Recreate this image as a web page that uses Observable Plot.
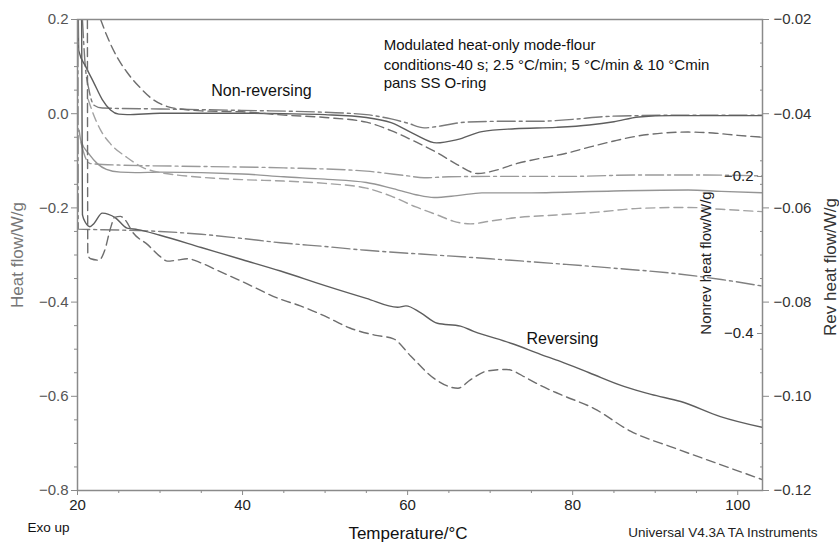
<!DOCTYPE html>
<html>
<head>
<meta charset="utf-8">
<script src="https://cdn.jsdelivr.net/npm/d3@7"></script>
<script src="https://cdn.jsdelivr.net/npm/@observablehq/plot@0.6"></script>
<style>
  html, body { margin: 0; padding: 0; background: white; }
</style>
</head>
<body>
<div id="chart"></div>
<script>
// ---- Data (Temperature °C, value read in left "Heat flow" axis units) ----
// Non-reversing group (top)
const nonrevDashDot = [[20.6,0.2],[20.9,0.11],[21.4,0.05],[22,0.018],[23,0.012],[30,0.01],[40,0.007],[50,0.003],[55,-0.002],[58,-0.011],[60,-0.02],[62,-0.03],[64,-0.026],[67,-0.018],[72,-0.016],[76,-0.016],[80,-0.012],[84,-0.006],[88,-0.004],[95,-0.003],[103,-0.003]];
const nonrevSolid = [[20.1,0.2],[20.15,0.134],[21,0.1],[22,0.065],[23,0.03],[24,0.008],[25,-0.001],[26,-0.002],[30,0.001],[40,0.001],[45,0.0],[50,-0.002],[55,-0.008],[58,-0.019],[61,-0.045],[63.5,-0.062],[66,-0.055],[69,-0.038],[73,-0.032],[78,-0.029],[82,-0.024],[85,-0.017],[88,-0.007],[92,-0.004],[103,-0.004]];
const nonrevDashed = [[22.8,0.2],[23.5,0.168],[24.8,0.12],[26,0.088],[27.6,0.055],[29,0.032],[30.9,0.015],[33,0.009],[35,0.006],[40,0.004],[45,-0.003],[50,-0.008],[55,-0.018],[58,-0.036],[61,-0.06],[63.6,-0.083],[66,-0.108],[68.5,-0.127],[70.5,-0.121],[73,-0.107],[76,-0.095],[79,-0.085],[82,-0.071],[85,-0.058],[88,-0.047],[91,-0.041],[94,-0.039],[97,-0.041],[100,-0.046],[103,-0.05]];
// Total heat flow group (middle)
const totalDashDot = [[20.4,-0.06],[21,-0.095],[21.6,-0.106],[25,-0.109],[35,-0.112],[45,-0.115],[55,-0.122],[60,-0.132],[62,-0.136],[65,-0.134],[70,-0.133],[80,-0.133],[88,-0.13],[95,-0.13],[103,-0.132]];
const totalSolid = [[20.2,-0.035],[20.4,-0.057],[21.5,-0.088],[22.4,-0.106],[23.5,-0.118],[25.2,-0.124],[27,-0.125],[30,-0.124],[40,-0.128],[45,-0.134],[50,-0.139],[55,-0.146],[58,-0.158],[61,-0.172],[63.2,-0.178],[66,-0.174],[69,-0.168],[75,-0.168],[85,-0.164],[94,-0.162],[98,-0.165],[103,-0.168]];
const totalDashed = [[21.3,0.03],[21.9,0.0],[22.8,-0.035],[24,-0.064],[26,-0.093],[28,-0.115],[30,-0.125],[32,-0.13],[35,-0.135],[40,-0.14],[45,-0.143],[50,-0.148],[55,-0.158],[58,-0.175],[61,-0.198],[63.6,-0.215],[65.5,-0.228],[67.6,-0.234],[70,-0.228],[73,-0.221],[78,-0.215],[83,-0.209],[88,-0.201],[94,-0.199],[98,-0.203],[103,-0.208]];
// Reversing group (bottom)
const revDashDot = [[20.05,0.2],[20.1,-0.245],[25,-0.247],[30,-0.25],[35,-0.256],[40,-0.265],[44.6,-0.274],[50,-0.282],[55,-0.29],[61.6,-0.298],[70,-0.308],[78.5,-0.319],[85,-0.328],[92.7,-0.34],[98,-0.352],[103,-0.366]];
const revSolid = [[20.5,0.2],[20.6,-0.215],[21,-0.232],[21.5,-0.24],[22,-0.233],[23,-0.211],[24.6,-0.221],[26,-0.243],[27.3,-0.246],[30,-0.258],[35,-0.284],[40,-0.31],[44.6,-0.334],[50,-0.365],[55,-0.392],[58.8,-0.411],[59.8,-0.408],[61.6,-0.423],[63.6,-0.445],[66.4,-0.451],[68,-0.462],[72.8,-0.489],[76.1,-0.511],[78.5,-0.526],[82,-0.55],[86.2,-0.579],[89.5,-0.596],[93.1,-0.611],[97.9,-0.643],[103,-0.666]];
const revDashed = [[21.2,0.2],[21.25,-0.3],[21.6,-0.308],[22.6,-0.311],[23.3,-0.29],[24,-0.243],[24.5,-0.22],[25.2,-0.218],[25.8,-0.226],[26.7,-0.252],[28.5,-0.278],[30,-0.303],[30.9,-0.313],[32,-0.311],[33.3,-0.308],[35,-0.317],[37,-0.333],[39.8,-0.355],[44.6,-0.394],[47,-0.408],[50,-0.43],[53,-0.455],[56,-0.47],[58.3,-0.478],[60.4,-0.515],[63.2,-0.562],[66.1,-0.583],[67.6,-0.565],[69.7,-0.546],[72,-0.543],[74.5,-0.562],[76.1,-0.577],[78.5,-0.596],[82.6,-0.626],[87,-0.674],[92.2,-0.709],[97.9,-0.745],[103,-0.777]];

// ---- Tick values ----
const xMajorTicks = [20, 40, 60, 80, 100];
const xMinorTicks = [25, 30, 35, 45, 50, 55, 65, 70, 75, 85, 90, 95];
const heatMajorTicks = [0.2, 0.0, -0.2, -0.4, -0.6, -0.8];
const heatMinorTicks = [0.15, 0.1, 0.05, -0.05, -0.1, -0.15, -0.25, -0.3, -0.35, -0.45, -0.5, -0.55, -0.65, -0.7, -0.75];
const revMajorTicks = [-0.02, -0.04, -0.06, -0.08, -0.10, -0.12];
const nonrevMajorTicks = [-0.2, -0.4];

// ---- Text ----
const annotations = [
  {text: "Modulated heat-only mode-flour", x: 57.1, y: 0.145, size: 15},
  {text: "conditions-40 s; 2.5 °C/min; 5 °C/min & 10 °Cmin", x: 57.1, y: 0.104, size: 15},
  {text: "pans SS O-ring", x: 57.1, y: 0.064, size: 15},
  {text: "Non-reversing", x: 36.2, y: 0.049, size: 16},
  {text: "Reversing", x: 74.4, y: -0.479, size: 16}
];

// axis conversions (secondary axes share the pixel range of the left axis)
const revToHeat = r => (r + 0.04) * 10;
const heatToRev = h => h / 10 - 0.04;
const nonrevToHeat = n => n / 0.6 + 0.2;
const heatToNonrev = h => (h - 0.2) * 0.6;

const series = [
  {pts: nonrevDashDot, stroke: "#7a7a7a", dash: "18,4,3,4"},
  {pts: nonrevSolid, stroke: "#5e5e5e", dash: null},
  {pts: nonrevDashed, stroke: "#6e6e6e", dash: "9,5"},
  {pts: totalDashDot, stroke: "#9a9a9a", dash: "18,4,3,4"},
  {pts: totalSolid, stroke: "#959595", dash: null},
  {pts: totalDashed, stroke: "#a2a2a2", dash: "9,5"},
  {pts: revDashDot, stroke: "#808080", dash: "18,4,3,4"},
  {pts: revSolid, stroke: "#5e5e5e", dash: null},
  {pts: revDashed, stroke: "#6e6e6e", dash: "9,5"}
];

const f1 = d3.format(".1f");
const f2 = d3.format(".2f");
const axisGrey = "#8a8a8a";

const lineMarks = series.map(s => Plot.line(s.pts, {
  x: d => d[0], y: d => d[1], stroke: s.stroke, strokeWidth: 1.4,
  strokeDasharray: s.dash, curve: "monotone-x", clip: true
}));

const chart = Plot.plot({
  width: 839,
  height: 542,
  marginTop: 19,
  marginBottom: 52,
  marginLeft: 77,
  marginRight: 77,
  style: {fontFamily: "'Liberation Sans', Arial, Helvetica, sans-serif", background: "white"},
  x: {domain: [20, 103]},
  y: {domain: [-0.8, 0.2]},
  marks: [
    ...lineMarks,
    Plot.frame({stroke: axisGrey, strokeWidth: 1.5}),
    // bottom axis
    Plot.axisX({ticks: xMajorTicks, tickSize: 5, tickPadding: 4, fontSize: 15, stroke: axisGrey, fill: "#222", label: null, tickFormat: d => String(d)}),
    Plot.axisX({ticks: xMinorTicks, tickSize: 3, stroke: axisGrey, label: null, tickFormat: () => ""}),
    // left axis
    Plot.axisY({ticks: heatMajorTicks, tickSize: 6, tickPadding: 3, fontSize: 15, stroke: axisGrey, fill: "#555", label: null, tickFormat: f1}),
    Plot.axisY({ticks: heatMinorTicks, tickSize: 3, stroke: axisGrey, label: null, tickFormat: () => ""}),
    // right (Rev) axis
    Plot.axisY({anchor: "right", ticks: revMajorTicks.map(revToHeat), tickSize: 6, tickPadding: 5, fontSize: 15, stroke: axisGrey, fill: "#333", label: null, tickFormat: d => f2(heatToRev(d))}),
    Plot.axisY({anchor: "right", ticks: heatMinorTicks, tickSize: 3, dx: -3, stroke: axisGrey, label: null, tickFormat: () => ""}),
    // inner (Nonrev) axis on the right frame edge
    Plot.axisY({anchor: "left", dx: 685, ticks: nonrevMajorTicks.map(nonrevToHeat), tickSize: 5, tickPadding: 4, fontSize: 15, stroke: axisGrey, fill: "#222", label: null, tickFormat: d => f1(heatToNonrev(d))}),
    // annotations
    ...annotations.map(a => Plot.text([a], {x: "x", y: "y", text: "text", fontSize: a.size, textAnchor: "start", lineAnchor: "middle", fill: "#111"})),
    // axis titles and footnotes
    Plot.text(["Heat flow/W/g"], {frameAnchor: "left", dx: -60, rotate: -90, fontSize: 17, fill: "#777", textAnchor: "middle", lineAnchor: "middle"}),
    Plot.text(["Rev heat flow/W/g"], {frameAnchor: "right", dx: 68, dy: 12, rotate: -90, fontSize: 17, fill: "#333", textAnchor: "middle", lineAnchor: "middle"}),
    Plot.text(["Nonrev heat flow/W/g"], {frameAnchor: "right", dx: -56, dy: 8, rotate: -90, fontSize: 15, fill: "#222", textAnchor: "middle", lineAnchor: "middle"}),
    Plot.text(["Temperature/°C"], {frameAnchor: "bottom", dx: -12, dy: 43, fontSize: 17, fill: "#111", textAnchor: "middle", lineAnchor: "middle"}),
    Plot.text(["Exo up"], {frameAnchor: "bottom-left", dx: -50, dy: 37, fontSize: 13.5, fill: "#111", textAnchor: "start", lineAnchor: "middle"}),
    Plot.text(["Universal V4.3A TA Instruments"], {frameAnchor: "bottom-right", dx: 55, dy: 42, fontSize: 13.5, fill: "#222", textAnchor: "end", lineAnchor: "middle"})
  ]
});

document.getElementById("chart").appendChild(chart);
</script>
</body>
</html>
